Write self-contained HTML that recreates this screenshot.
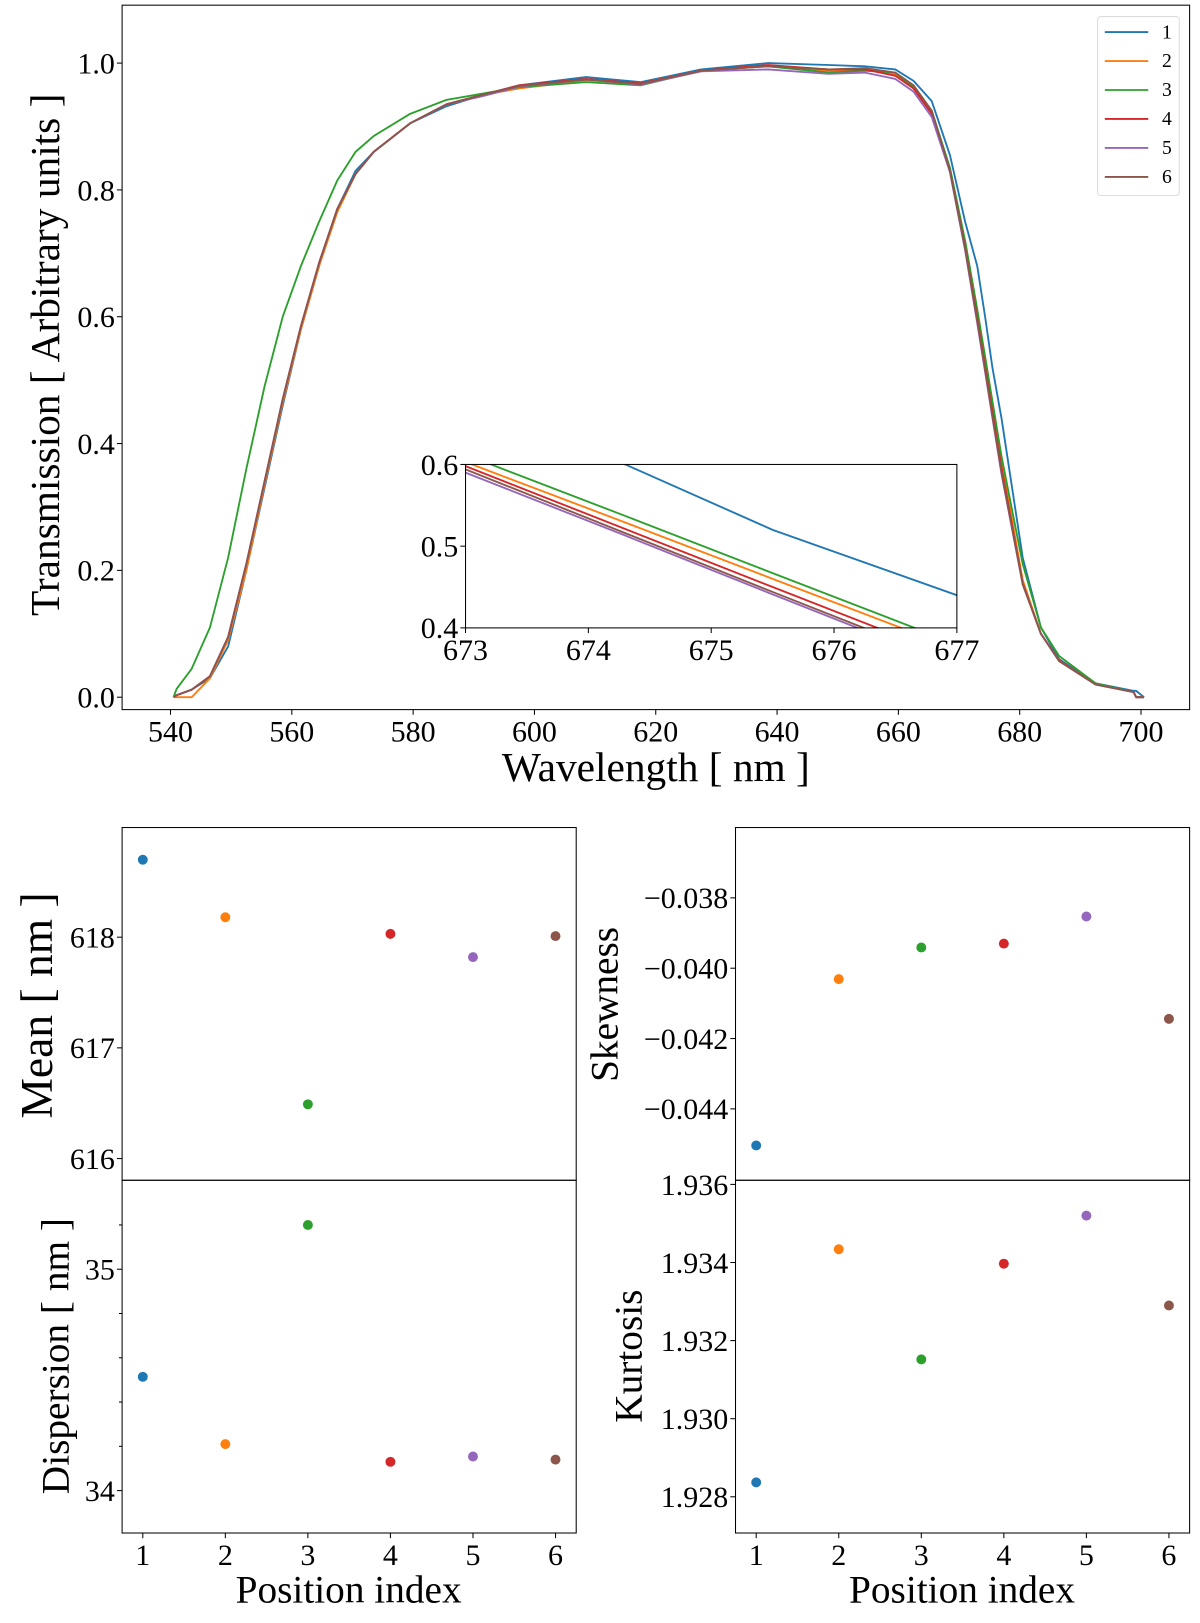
<!DOCTYPE html>
<html><head><meta charset="utf-8"><style>
html,body{margin:0;padding:0;background:#fff;}
svg{display:block;font-family:"Liberation Serif",serif;}
</style></head><body>
<svg id="fig" width="1200" height="1623" viewBox="0 0 1160 1569" xmlns="http://www.w3.org/2000/svg"></svg>
<script>
const wavelengths=[540.5,541,543.5,546.5,549.5,552.5,555.5,558.5,561.5,564.5,567.5,570.5,573.5,579.5,585.5,591.5,597.5,608.5,617.5,627.5,638.5,648.5,654.5,659.5,662.5,665.5,668.5,671,673,674.3,675.5,677,680.5,683.5,686.5,692.5,698.8,699.2,700.5];
const series1=[0,0.003,0.012,0.03,0.08,0.2,0.33,0.46,0.58,0.68,0.77,0.83,0.86,0.905,0.932,0.95,0.965,0.978,0.97,0.99,1.0,0.997,0.995,0.99,0.972,0.94,0.855,0.75,0.68,0.6,0.52,0.44,0.22,0.11,0.06,0.022,0.01,0.01,0];
const series2=[0,0,0,0.03,0.09,0.2,0.335,0.465,0.58,0.68,0.765,0.825,0.86,0.905,0.935,0.95,0.96,0.973,0.968,0.988,0.995,0.988,0.99,0.982,0.962,0.922,0.832,0.715,0.603,0.529,0.46,0.374,0.185,0.1,0.058,0.02,0.008,0,0];
const series3=[0,0.013,0.045,0.11,0.22,0.36,0.49,0.6,0.68,0.75,0.815,0.86,0.885,0.92,0.942,0.952,0.962,0.97,0.965,0.988,0.995,0.985,0.988,0.985,0.962,0.925,0.835,0.72,0.612,0.537,0.467,0.38,0.21,0.11,0.065,0.022,0.008,0,0];
const series4=[0,0.003,0.012,0.033,0.095,0.21,0.34,0.47,0.585,0.685,0.77,0.825,0.86,0.905,0.935,0.95,0.965,0.975,0.968,0.988,0.997,0.99,0.99,0.98,0.96,0.92,0.83,0.71,0.598,0.521,0.45,0.362,0.18,0.1,0.058,0.02,0.008,0,0];
const series5=[0,0.003,0.012,0.033,0.095,0.21,0.34,0.47,0.585,0.685,0.77,0.825,0.86,0.905,0.935,0.948,0.963,0.974,0.966,0.987,0.99,0.983,0.985,0.975,0.955,0.915,0.828,0.705,0.59,0.513,0.441,0.352,0.178,0.1,0.057,0.02,0.008,0,0];
const series6=[0,0.003,0.012,0.033,0.095,0.21,0.34,0.47,0.585,0.685,0.77,0.825,0.86,0.905,0.935,0.95,0.964,0.974,0.967,0.988,0.995,0.99,0.992,0.985,0.965,0.925,0.83,0.708,0.594,0.516,0.444,0.355,0.178,0.1,0.057,0.02,0.008,0,0];
const colors=["#1f77b4","#ff7f0e","#2ca02c","#d62728","#9467bd","#8c564b"];
const positions=[1,2,3,4,5,6];
const meanVals=[618.70,618.18,616.49,618.03,617.82,618.01];
const dispVals=[34.514,34.21,35.20,34.13,34.154,34.14];
const skewVals=[-0.04504,-0.04031,-0.03941,-0.03930,-0.03853,-0.04144];
const kurtVals=[1.92837,1.93434,1.93152,1.93397,1.93520,1.93290];
const mainXTicks=[540,560,580,600,620,640,660,680,700];
const mainYTicks=[0,0.2,0.4,0.6,0.8,1.0];
const insetXTicks=[673,674,675,676,677];
const insetYTicks=[0.4,0.5,0.6];
const meanTicks=[616,617,618];
const dispTicks=[34,35];
const skewTicks=[-0.044,-0.042,-0.040,-0.038];
const kurtTicks=[1.928,1.930,1.932,1.934,1.936];

const NS="http://www.w3.org/2000/svg";
const svg=document.getElementById('fig');
const TS=29;
function mk(tag,attrs,parent){const e=document.createElementNS(NS,tag);for(const k in attrs)e.setAttribute(k,attrs[k]);(parent||svg).appendChild(e);return e;}
function lin(d0,d1,r0,r1){return v=>r0+(v-d0)*(r1-r0)/(d1-d0);}
function txt(s,x,y,size,anchor,rot,name){const t=mk('text',{x:x,y:y,'font-size':size,'text-anchor':anchor||'middle',fill:'#000'});if(rot)t.setAttribute('transform','rotate(-90 '+x+' '+y+')');t.textContent=s;


return t;}
function frame(x0,y0,x1,y1,name){const r=mk('rect',{x:x0,y:y0,width:x1-x0,height:y1-y0,fill:'none',stroke:'#000','stroke-width':1});

}
function fmt(v,d){let s=v.toFixed(d);if(v<0)s='\u2212'+(-v).toFixed(d);return s;}
function yTicks(ticks,sy,x0,size,d,name){ticks.forEach(v=>{const y=sy(v);const l=mk('line',{x1:x0-5,x2:x0,y1:y,y2:y,stroke:'#000'});


txt(fmt(v,d),x0-7,y+10,size,'end',false,name+'-label');});}
function xTicks(ticks,sx,y0,size,d,name){ticks.forEach(v=>{const x=sx(v);const l=mk('line',{x1:x,x2:x,y1:y0,y2:y0+5,stroke:'#000'});


txt(fmt(v,d),x,y0+31,size,'middle',false,name+'-label');});}

// main chart
const allSeries=[series1,series2,series3,series4,series5,series6];
const mx=lin(540,700,164.8,1103), my=lin(0,1,674,61);
allSeries.forEach((s,i)=>{const p=mk('polyline',{points:wavelengths.map((w,j)=>mx(w)+','+my(s[j])).join(' '),fill:'none',stroke:colors[i],'stroke-width':1.8,'stroke-linejoin':'round'});

});
frame(118,5,1150,686,'main-axes');
xTicks(mainXTicks,mx,686,TS,0,'main-x-tick');
yTicks(mainYTicks,my,118,TS,1,'main-y-tick');
txt('Wavelength [ nm ]',634,755,40,'middle',false,'x-axis-title');
txt('Transmission [ Arbitrary units ]',57,343,40,'middle',true,'y-axis-title');
// legend
const lg=mk('rect',{x:1061,y:16,width:79,height:173,rx:3,fill:'#fff',stroke:'#ddd'});


colors.forEach((c,i)=>{const y=31+i*28;const l=mk('line',{x1:1068,x2:1110,y1:y,y2:y,stroke:c,'stroke-width':1.8});


txt(String(i+1),1128,y+6,19,'middle',false,'legend-label-'+(i+1));});
// inset
const ix=lin(673,677,450,925), iy=lin(0.4,0.6,607,449);
const bg=mk('rect',{x:450,y:449,width:475,height:158,fill:'#fff'});


const cp=mk('clipPath',{id:'ic'});mk('rect',{x:450,y:449,width:475,height:158},cp);
const ig=mk('g',{'clip-path':'url(#ic)'});


allSeries.forEach((s,i)=>{const p=mk('polyline',{points:wavelengths.map((w,j)=>ix(w)+','+iy(s[j])).join(' '),fill:'none',stroke:colors[i],'stroke-width':1.8},ig);

});
frame(450,449,925,607,'inset-axes');
xTicks(insetXTicks,ix,607,TS,0,'inset-x-tick');
yTicks(insetYTicks,iy,450,TS,1,'inset-y-tick');

// scatter panels
function dots(vals,sx,sy,name){vals.forEach((v,i)=>{const c=mk('circle',{cx:sx(positions[i]),cy:sy(v),r:4.8,fill:colors[i]});

});}
const lx=lin(1,6,138,537), rx=lin(1,6,731,1130);
const meanY=lin(617,618,1013,906);
dots(meanVals,lx,meanY,'mean');
frame(118,800,557,1141,'mean-axes');
yTicks(meanTicks,meanY,118,TS,0,'mean-y-tick');
txt('Mean [ nm ]',50,972,44,'middle',true,'mean-axis-title');
const dispY=lin(34,35,1441,1227);
dots(dispVals,lx,dispY,'dispersion');
frame(118,1141,557,1482,'dispersion-axes');
[34.2,34.4,34.6,34.8,35.2].forEach(v=>{const y=dispY(v);const l=mk('line',{x1:115,x2:118,y1:y,y2:y,stroke:'#000'});

});
yTicks(dispTicks,dispY,118,TS,0,'dispersion-y-tick');
txt('Dispersion [ nm ]',66,1311,38,'middle',true,'dispersion-axis-title');
xTicks(positions,lx,1482,TS,0,'left-x-tick');
txt('Position index',337,1549,38,'middle',false,'left-x-axis-title');
const skewY=lin(-0.040,-0.038,936,868);
dots(skewVals,rx,skewY,'skewness');
frame(711,800,1150,1141,'skewness-axes');
yTicks(skewTicks,skewY,711,TS,3,'skewness-y-tick');
txt('Skewness',597,971,38,'middle',true,'skewness-axis-title');
const kurtY=lin(1.928,1.936,1447,1145);
dots(kurtVals,rx,kurtY,'kurtosis');
frame(711,1141,1150,1482,'kurtosis-axes');
yTicks(kurtTicks,kurtY,711,TS,3,'kurtosis-y-tick');
txt('Kurtosis',620,1311,38,'middle',true,'kurtosis-axis-title');
xTicks(positions,rx,1482,TS,0,'right-x-tick');
txt('Position index',930,1549,38,'middle',false,'right-x-axis-title');
</script>
</body></html>
